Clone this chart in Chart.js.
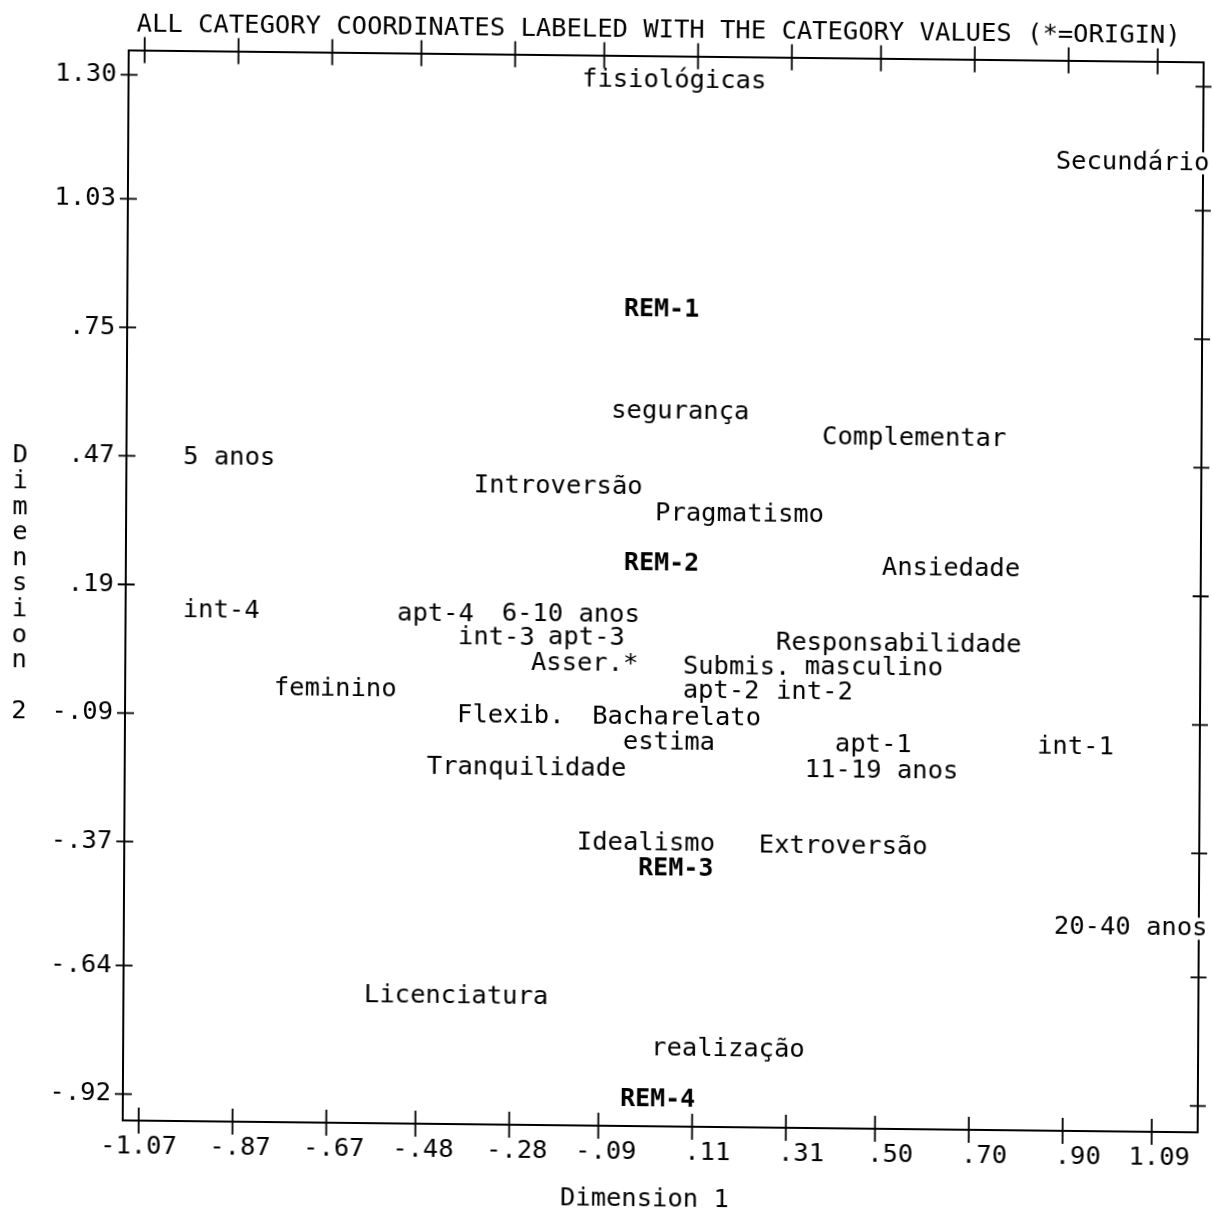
<!DOCTYPE html>
<html>
<head>
<meta charset="utf-8">
<script src="https://cdn.jsdelivr.net/npm/chart.js@4.4.1/dist/chart.umd.min.js"></script>
<style>
  html, body { margin: 0; padding: 0; background: #fff; overflow: hidden; }
  #wrap {
    position: absolute; left: 0; top: 0; width: 1213px; height: 1212px;
    transform-origin: 0 0;
    transform: matrix(1, 0.0111, -0.0056, 1, 0, 0);
  }
  canvas { display: block; }
</style>
</head>
<body>
<div id="wrap"><canvas id="chart" width="1213" height="1212"></canvas></div>
<script>
const plotTitle = 'ALL CATEGORY COORDINATES LABELED WITH THE CATEGORY VALUES (*=ORIGIN)';
const xAxisTitle = 'Dimension 1';
const yAxisTitle = 'Dimension 2';

const xTickLabels = ['-1.07', '-.87', '-.67', '-.48', '-.28', '-.09', '.11', '.31', '.50', '.70', '.90', '1.09'];
const yTickLabels = ['1.30', '1.03', '.75', '.47', '.19', '-.09', '-.37', '-.64', '-.92'];

// Column categories
const catNames = [
  'fisiológicas', 'Secundário', 'segurança', 'Complementar', '5 anos', 'Introversão',
  'Pragmatismo', 'Ansiedade', 'int-4', 'apt-4', '6-10 anos', 'int-3', 'apt-3',
  'Responsabilidade', 'Asser.*', 'Submis.', 'masculino', 'feminino', 'apt-2', 'int-2',
  'Flexib.', 'Bacharelato', 'estima', 'apt-1', 'int-1', 'Tranquilidade', '11-19 anos',
  'Idealismo', 'Extroversão', '20-40 anos', 'Licenciatura', 'realização'
];
const catDim1 = [
  -0.137, 0.874, -0.071, 0.379, -0.983, -0.363,
  0.024, 0.508, -0.982, -0.525, -0.302, -0.395, -0.203,
  0.283, -0.239, 0.085, 0.345, -0.787, 0.085, 0.284,
  -0.396, -0.108, -0.042, 0.410, 0.841, -0.460, 0.346,
  -0.139, 0.249, 0.879, -0.591, 0.022
];
const catDim2 = [
  1.300, 1.133, 0.580, 0.526, 0.469, 0.413,
  0.356, 0.244, 0.134, 0.132, 0.135, 0.082, 0.084,
  0.078, 0.027, 0.024, 0.025, -0.032, -0.029, -0.029,
  -0.088, -0.087, -0.141, -0.142, -0.142, -0.200, -0.198,
  -0.362, -0.364, -0.534, -0.699, -0.809
];

// Row categories
const remNames = ['REM-1', 'REM-2', 'REM-3', 'REM-4'];
const remDim1 = [-0.045, -0.042, -0.008, -0.044];
const remDim2 = [0.802, 0.247, -0.417, -0.919];

const MONO = '"DejaVu Sans Mono", "Liberation Mono", monospace';
const baseFont = { family: MONO, size: 25.5 };

Chart.defaults.color = '#000';

// Tick marks that cross all four sides of the frame
const crossTicks = {
  id: 'crossTicks',
  afterDraw(chart) {
    const { ctx, chartArea: a, scales: { x, y } } = chart;
    ctx.save();
    ctx.strokeStyle = '#000';
    ctx.lineWidth = 1.8;
    ctx.beginPath();
    x.ticks.forEach(t => {
      const px = x.getPixelForValue(t.value);
      ctx.moveTo(px, a.top - 13); ctx.lineTo(px, a.top + 13);
      ctx.moveTo(px, a.bottom - 13); ctx.lineTo(px, a.bottom + 13);
    });
    y.ticks.forEach(t => {
      const py = y.getPixelForValue(t.value);
      ctx.moveTo(a.left - 8, py); ctx.lineTo(a.left + 9, py);
      ctx.moveTo(a.right - 8, py); ctx.lineTo(a.right + 8, py);
    });
    ctx.stroke();
    ctx.restore();
  }
};

// Category names written at their coordinates
const pointLabels = {
  id: 'pointLabels',
  afterDraw(chart) {
    const ctx = chart.ctx;
    ctx.save();
    ctx.textAlign = 'left';
    ctx.textBaseline = 'middle';
    const items = [];
    chart.data.datasets.forEach((ds, di) => {
      const meta = chart.getDatasetMeta(di);
      meta.data.forEach((pt, i) => items.push({ font: ds.labelFont, text: ds.data[i].name, x: pt.x, y: pt.y }));
    });
    items.forEach(it => {
      ctx.font = it.font;
      const w = ctx.measureText(it.text).width;
      ctx.fillStyle = '#fff';
      ctx.fillRect(it.x, it.y - 11, w, 22);
    });
    items.forEach(it => {
      ctx.font = it.font;
      ctx.fillStyle = '#000';
      ctx.fillText(it.text, it.x, it.y);
    });
    ctx.restore();
  }
};

// Vertical axis title written one letter per line
const stackedYTitle = {
  id: 'stackedYTitle',
  afterDraw(chart) {
    const { ctx, chartArea: a } = chart;
    const chars = [...yAxisTitle];
    const rowH = 25.6;
    const y0 = (a.top + a.bottom) / 2 - (chars.length - 1) * rowH / 2;
    ctx.save();
    ctx.font = `${baseFont.size}px ${MONO}`;
    ctx.fillStyle = '#000';
    ctx.textAlign = 'center';
    ctx.textBaseline = 'middle';
    chars.forEach((c, i) => { if (c !== ' ') ctx.fillText(c, 23, y0 + i * rowH); });
    ctx.restore();
  }
};

new Chart(document.getElementById('chart'), {
  type: 'scatter',
  data: {
    datasets: [
      {
        label: 'Categorias',
        data: catNames.map((n, i) => ({ x: catDim1[i], y: catDim2[i], name: n })),
        pointRadius: 0,
        labelFont: `${baseFont.size}px ${MONO}`
      },
      {
        label: 'REM',
        data: remNames.map((n, i) => ({ x: remDim1[i], y: remDim2[i], name: n })),
        pointRadius: 0,
        labelFont: `bold 25px ${MONO}`
      }
    ]
  },
  options: {
    responsive: false,
    animation: false,
    devicePixelRatio: 1,
    events: [],
    layout: { padding: { left: 0, top: 0, right: 9, bottom: 0 } },
    plugins: { legend: { display: false }, tooltip: { enabled: false } },
    scales: {
      x: {
        type: 'linear', position: 'bottom', min: -1.104, max: 1.188,
        afterBuildTicks: s => { s.ticks = xTickLabels.map(l => ({ value: parseFloat(l) })); },
        afterFit: s => { s.height = 93; },
        grid: { display: true, drawOnChartArea: false, drawTicks: false },
        border: { display: true, color: '#000', width: 2 },
        ticks: {
          autoSkip: false, maxRotation: 0, minRotation: 0, padding: 11, color: '#000', font: baseFont,
          callback: (v, i) => xTickLabels[i].padStart(5)
        },
        title: { display: true, text: xAxisTitle + '  ', color: '#000', font: baseFont, padding: { top: 0, bottom: 4 } }
      },
      x2: {
        type: 'linear', position: 'top', min: -1.104, max: 1.188,
        afterFit: s => { s.height = 48.6; },
        grid: { display: false, drawTicks: false },
        border: { display: true, color: '#000', width: 2 },
        ticks: { display: false },
        title: { display: true, text: plotTitle + ' ', color: '#000', font: baseFont, padding: { top: 8, bottom: 0 } }
      },
      y: {
        type: 'linear', position: 'left', min: -0.9775, max: 1.354,
        afterBuildTicks: s => { s.ticks = yTickLabels.map(l => ({ value: parseFloat(l) })); },
        afterFit: s => { s.width = 129; },
        grid: { display: true, drawOnChartArea: false, drawTicks: false },
        border: { display: true, color: '#000', width: 2 },
        ticks: {
          autoSkip: false, padding: 12, color: '#000', font: baseFont,
          callback: (v, i) => yTickLabels[i]
        },
        title: { display: false }
      },
      y2: {
        type: 'linear', position: 'right', min: -0.9775, max: 1.354,
        afterFit: s => { s.width = 0; },
        grid: { display: false, drawTicks: false },
        border: { display: true, color: '#000', width: 2 },
        ticks: { display: false }
      }
    }
  },
  plugins: [crossTicks, pointLabels, stackedYTitle]
});
</script>
</body>
</html>
